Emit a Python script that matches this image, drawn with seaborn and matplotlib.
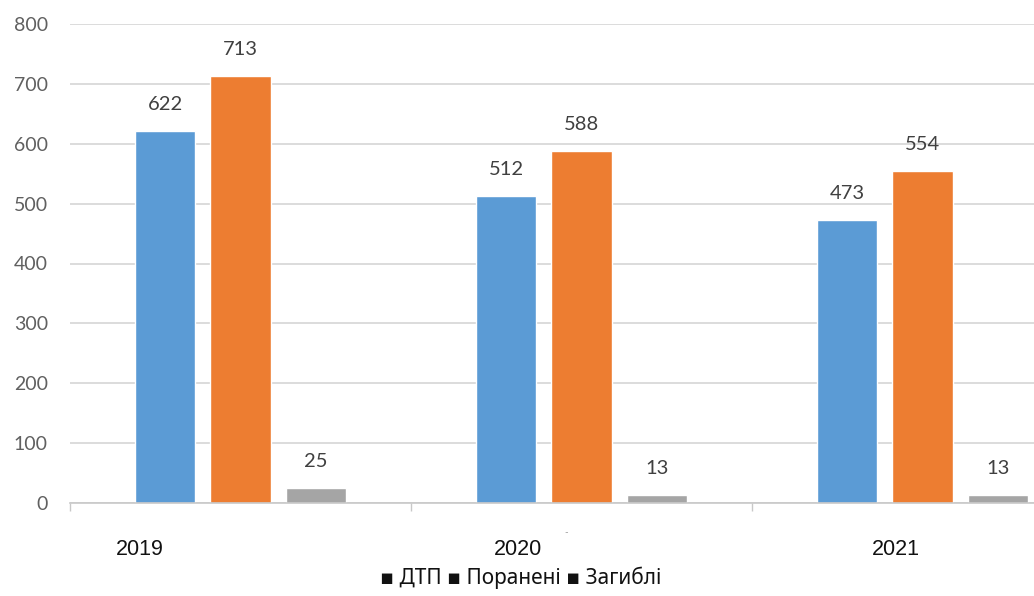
import matplotlib
matplotlib.use("Agg")
import matplotlib.pyplot as plt
import seaborn as sns
import pandas as pd

years = ["2019", "2020", "2021"]
series = ["ДТП", "Поранені", "Загиблі"]
dtp = [622, 512, 473]
injured = [713, 588, 554]
killed = [25, 13, 13]
yticks = [0, 100, 200, 300, 400, 500, 600, 700, 800]

colors = ["#5B9BD5", "#ED7D31", "#A5A5A5"]

df = pd.DataFrame({
    "year": years * 3,
    "series": [series[0]] * 3 + [series[1]] * 3 + [series[2]] * 3,
    "value": dtp + injured + killed,
})

sns.set_theme(style="white")
plt.rcParams["font.family"] = ["Lato", "DejaVu Sans"]

W, H = 1034, 596
fig = plt.figure(figsize=(W / 100, H / 100), dpi=100)
ax = fig.add_axes([70 / W, 93 / H, 1023 / W, 479 / H])

sns.barplot(data=df, x="year", y="value", hue="series", order=years,
            hue_order=series, palette=colors, width=0.664, gap=0.205,
            saturation=1, legend=False, ax=ax)

for cont in ax.containers:
    ax.bar_label(cont, padding=13, fontsize=14.5, color="#404040")

ax.set_xlim(-0.5, 2.5)
ax.set_ylim(0, 800)
ax.set_yticks(yticks)
ax.set_yticklabels([str(v) for v in yticks], fontsize=14, color="#606060")
ax.tick_params(axis="y", length=0, pad=16)
ax.yaxis.grid(True, color="#d9d9d9", linewidth=1.3)
ax.set_axisbelow(True)

for s in ["top", "right", "left"]:
    ax.spines[s].set_visible(False)
ax.spines["bottom"].set_color("#c8c8c8")
ax.spines["bottom"].set_linewidth(1.2)

# separators between categories as major ticks
ax.set_xticks([-0.5, 0.5, 1.5, 2.5])
ax.set_xticklabels([])
ax.tick_params(axis="x", which="major", bottom=True, length=6,
               color="#c8c8c8", width=1)

# year labels (offset as in the source picture)
label_px = [140, 518, 896]
label_pos = [(p - 70) / 341 - 0.5 for p in label_px]
ax.set_xticks(label_pos, minor=True)
ax.set_xticklabels(years, minor=True, fontsize=15.5, color="#111111",
                   family=["Liberation Sans", "DejaVu Sans"])
ax.tick_params(axis="x", which="minor", bottom=True, length=0, pad=26)
ax.set_xlabel("")
ax.set_ylabel("")

fig.text(566 / W, 1 - 533 / H, "-", fontsize=7, color="#999999",
         ha="center", va="center")

fig.text(521 / W, 1 - 578 / H, "▪ ДТП ▪ Поранені ▪ Загиблі", fontsize=15,
         color="#111111", ha="center", va="center",
         family=["Noto Sans", "DejaVu Sans"])

fig.savefig("out.png", dpi=100)
